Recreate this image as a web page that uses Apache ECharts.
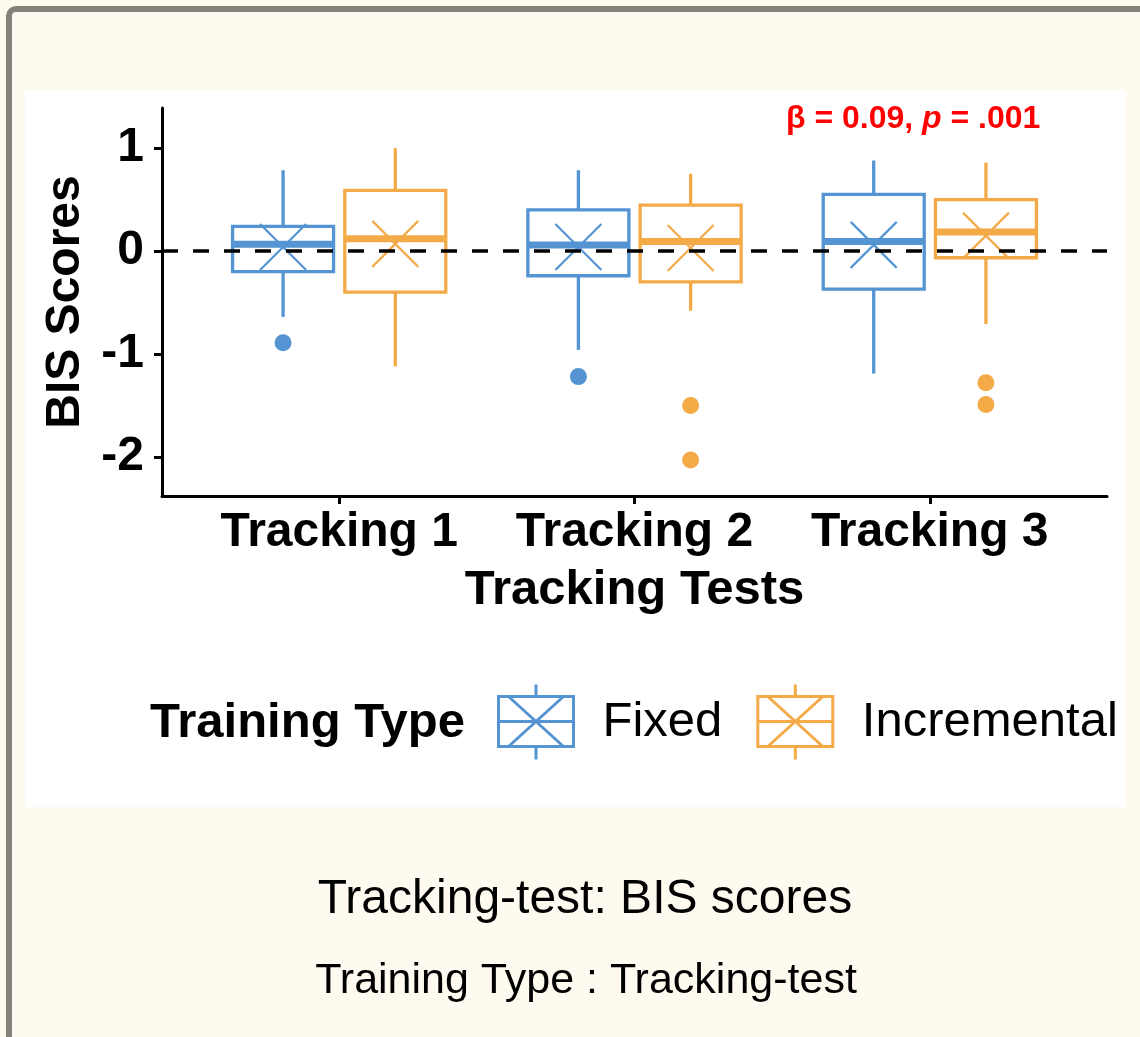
<!DOCTYPE html>
<html><head><meta charset="utf-8">
<script src="https://cdn.jsdelivr.net/npm/echarts@6/dist/echarts.min.js"></script>
<style>
html,body{margin:0;padding:0;background:#FFFAF0;width:1140px;height:1037px;overflow:hidden;}
#frame{position:absolute;left:6px;top:6px;width:1200px;height:1100px;border:6px solid #86827a;border-radius:10px;box-sizing:border-box;background:#FFFAF0;}
#chart{position:absolute;left:0;top:0;width:1140px;height:1037px;}
</style></head><body>
<div id="frame"></div><div id="chart"></div>
<script>
// ---- data ----
const categories = ['Tracking 1', 'Tracking 2', 'Tracking 3'];
const yTickValues = [-2, -1, 0, 1];
const seriesNames = ['Fixed', 'Incremental'];

const fixedLow    = [-0.64, -0.96, -1.19];
const fixedQ1     = [-0.20, -0.24, -0.37];
const fixedMedian = [0.065, 0.06, 0.094];
const fixedQ3     = [0.24, 0.40, 0.55];
const fixedHigh   = [0.785, 0.785, 0.88];
const fixedMean   = [0.04, 0.04, 0.06];
const fixedOutliers = [[0, -0.89], [1, -1.22]];

const incLow    = [-1.12, -0.58, -0.71];
const incQ1     = [-0.40, -0.30, -0.065];
const incMedian = [0.12, 0.094, 0.184];
const incQ3     = [0.59, 0.446, 0.50];
const incHigh   = [1.0, 0.75, 0.86];
const incMean   = [0.07, 0.03, 0.15];
const incOutliers = [[1, -1.50], [1, -2.03], [2, -1.28], [2, -1.49]];

const annotationText = 'β = 0.09, {i|p} = .001';
const titleText = 'Tracking-test: BIS scores';
const subtitleText = 'Training Type : Tracking-test';

// ---- styles ----
const FONT = '"Liberation Sans", Arial, Helvetica, sans-serif';
const BLUE = '#5494d2';
const ORANGE = '#f3aa47';
const DODGE = 0.19;
const BOX_WIDTH = 0.342;
const KEY_ICON = 'path://M37.5 0 L37.5 12 M0 12 L75 12 L75 62 L0 62 Z M37.5 62 L37.5 75 M0 37 L75 37 M10 12 L65 62 M65 12 L10 62';

function buildBoxes(low, q1, med, q3, high, mean) {
  return categories.map((c, i) => [i + 1, low[i], q1[i], med[i], q3[i], high[i], mean[i]]);
}
function buildOutliers(list, offset) {
  return list.map(o => [o[0] + 1 + offset, o[1]]);
}

function boxRenderer(offset, color) {
  return function (params, api) {
    const x = api.value(0) + offset;
    const c = v => api.coord([x, v]);
    const pLow = c(api.value(1)), pQ1 = c(api.value(2)), pMed = c(api.value(3));
    const pQ3 = c(api.value(4)), pHigh = c(api.value(5)), pMean = c(api.value(6));
    const cx = pMed[0];
    const hw = api.size([BOX_WIDTH, 0])[0] / 2;
    const s = 23;
    const lw = 3.3;
    return {
      type: 'group',
      children: [
        { type: 'line', shape: { x1: cx, y1: pHigh[1], x2: cx, y2: pQ3[1] }, style: { stroke: color, lineWidth: lw } },
        { type: 'line', shape: { x1: cx, y1: pQ1[1], x2: cx, y2: pLow[1] }, style: { stroke: color, lineWidth: lw } },
        { type: 'rect', shape: { x: cx - hw, y: pQ3[1], width: 2 * hw, height: pQ1[1] - pQ3[1] }, style: { fill: 'none', stroke: color, lineWidth: lw } },
        { type: 'line', shape: { x1: cx - hw, y1: pMed[1], x2: cx + hw, y2: pMed[1] }, style: { stroke: color, lineWidth: 7 } },
        { type: 'line', shape: { x1: cx - s, y1: pMean[1] - s, x2: cx + s, y2: pMean[1] + s }, style: { stroke: color, lineWidth: 2.2 } },
        { type: 'line', shape: { x1: cx - s, y1: pMean[1] + s, x2: cx + s, y2: pMean[1] - s }, style: { stroke: color, lineWidth: 2.2 } }
      ]
    };
  };
}

const chart = echarts.init(document.getElementById('chart'), null, { renderer: 'canvas' });

const option = {
  backgroundColor: 'transparent',
  animation: false,
  title: [
    { text: titleText, left: 585, top: 876, padding: 0, textAlign: 'center',
      textStyle: { fontSize: 48, fontWeight: 'normal', color: '#000', fontFamily: FONT } },
    { text: subtitleText, left: 586, top: 960, padding: 0, textAlign: 'center',
      textStyle: { fontSize: 43, fontWeight: 'normal', color: '#000', fontFamily: FONT } }
  ],
  grid: { left: 162, right: 33, top: 108, bottom: 541, containLabel: false },
  xAxis: {
    type: 'value', min: 0.4, max: 3.6,
    name: 'Tracking Tests', nameLocation: 'middle', nameGap: 70,
    nameTextStyle: { fontSize: 49, fontWeight: 'bold', color: '#000', fontFamily: FONT },
    splitLine: { show: false },
    axisLine: { show: true, onZero: false, lineStyle: { color: '#000', width: 3 } },
    axisTick: { show: true, length: 8, lineStyle: { color: '#000', width: 3 }, customValues: [1, 2, 3] },
    axisLabel: { show: true, margin: 13, customValues: [1, 2, 3],
      formatter: v => categories[Math.round(v) - 1],
      fontSize: 48, fontWeight: 'bold', color: '#000', fontFamily: FONT }
  },
  yAxis: {
    type: 'value', min: -2.38, max: 1.39,
    name: 'BIS Scores', nameLocation: 'middle', nameGap: 72,
    nameTextStyle: { fontSize: 48, fontWeight: 'bold', color: '#000', fontFamily: FONT },
    splitLine: { show: false },
    axisLine: { show: true, onZero: false, lineStyle: { color: '#000', width: 3 } },
    axisTick: { show: true, length: 8, lineStyle: { color: '#000', width: 3 }, customValues: yTickValues },
    axisLabel: { show: true, margin: 18, customValues: yTickValues,
      fontSize: 48, fontWeight: 'bold', color: '#000', fontFamily: FONT }
  },
  legend: {
    left: 497, top: 683, padding: 0, itemWidth: 75, itemHeight: 75, itemGap: 34,
    selectedMode: false,
    textStyle: { fontSize: 49, color: '#000', fontFamily: FONT, padding: [4, 0, 0, 24] },
    data: [
      { name: 'Fixed', icon: KEY_ICON, itemStyle: { color: 'rgba(0,0,0,0)', borderColor: BLUE, borderWidth: 3 } },
      { name: 'Incremental', icon: KEY_ICON, itemStyle: { color: 'rgba(0,0,0,0)', borderColor: ORANGE, borderWidth: 3 } }
    ]
  },
  graphic: [
    { type: 'rect', z: -10, silent: true, shape: { x: 25, y: 90, width: 1100, height: 717 }, style: { fill: '#ffffff' } },
    { type: 'text', x: 150, y: 723, style: { text: 'Training Type', fontSize: 49, fontWeight: 'bold', fontFamily: FONT, fill: '#000', verticalAlign: 'middle', align: 'left' } },
    { type: 'text', x: 786, y: 119, style: { text: annotationText, fontSize: 32, fontWeight: 'bold', fontFamily: FONT, fill: '#ff0000', verticalAlign: 'middle', align: 'left',
        rich: { i: { fontSize: 32, fontWeight: 'bold', fontStyle: 'italic', fontFamily: FONT, fill: '#ff0000' } } } }
  ],
  series: [
    { name: 'Fixed', type: 'custom', itemStyle: { color: BLUE }, z: 3,
      encode: { x: 0, y: [1, 2, 3, 4, 5, 6] },
      renderItem: boxRenderer(-DODGE, BLUE),
      data: buildBoxes(fixedLow, fixedQ1, fixedMedian, fixedQ3, fixedHigh, fixedMean) },
    { name: 'Incremental', type: 'custom', itemStyle: { color: ORANGE }, z: 3,
      encode: { x: 0, y: [1, 2, 3, 4, 5, 6] },
      renderItem: boxRenderer(DODGE, ORANGE),
      data: buildBoxes(incLow, incQ1, incMedian, incQ3, incHigh, incMean) },
    { name: 'Fixed outliers', type: 'scatter', symbol: 'circle', symbolSize: 17, z: 4,
      itemStyle: { color: BLUE, opacity: 1 }, data: buildOutliers(fixedOutliers, -DODGE) },
    { name: 'Incremental outliers', type: 'scatter', symbol: 'circle', symbolSize: 17, z: 4,
      itemStyle: { color: ORANGE, opacity: 1 }, data: buildOutliers(incOutliers, DODGE) },
    { name: 'zero', type: 'line', data: [], z: 6,
      markLine: { silent: true, symbol: 'none', label: { show: false },
        lineStyle: { color: '#000', width: 3.5, type: [16, 15] },
        data: [{ yAxis: 0 }] } }
  ]
};
chart.setOption(option);
</script></body></html>
